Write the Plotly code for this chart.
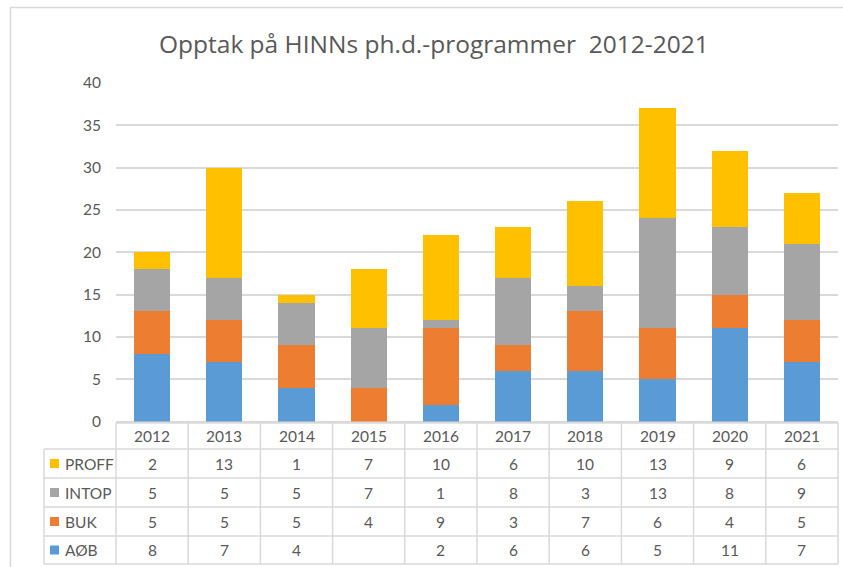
import plotly.graph_objects as go

years = ["2012", "2013", "2014", "2015", "2016", "2017", "2018", "2019", "2020", "2021"]
aob = [8, 7, 4, None, 2, 6, 6, 5, 11, 7]
buk = [5, 5, 5, 4, 9, 3, 7, 6, 4, 5]
intop = [5, 5, 5, 7, 1, 8, 3, 13, 8, 9]
proff = [2, 13, 1, 7, 10, 6, 10, 13, 9, 6]

series_names = ["AØB", "BUK", "INTOP", "PROFF"]
series_vals = [aob, buk, intop, proff]
colors = ["#5B9BD5", "#ED7D31", "#A5A5A5", "#FFC000"]
title_text = "Opptak på HINNs ph.d.-programmer  2012-2021"

W, H = 843, 567
FONT = "Lato"
TITLE_FONT = "Open Sans"
TXT = "#595959"
GRID = "#D9D9D9"


def px(x):
    return x / W


def py(y):
    return 1 - y / H


X0, X1 = 116, 838
Y0, Y40 = 421.5, 83

fig = go.Figure()
for name, vals, col in zip(series_names, series_vals, colors):
    fig.add_trace(go.Bar(
        x=years, y=[v if v is not None else 0 for v in vals], name=name,
        marker=dict(color=col, line=dict(width=0)),
    ))

shapes = []
# outer chart frame
shapes.append(dict(type="rect", xref="paper", yref="paper",
                   x0=px(10.5), x1=px(860), y0=py(7.5), y1=py(590),
                   line=dict(color="#D9D9D9", width=1.5), fillcolor="rgba(0,0,0,0)"))

# data table grid
line_style = dict(color=GRID, width=1.5)
row_lines = [423, 449, 478, 507, 536, 564]
for i, yl in enumerate(row_lines):
    xs = X0 if i == 0 else 44
    shapes.append(dict(type="line", xref="paper", yref="paper",
                       x0=px(xs), x1=px(X1), y0=py(yl), y1=py(yl), line=line_style))
colw = (X1 - X0) / len(years)
for i in range(len(years) + 1):
    xl = X0 + i * colw
    shapes.append(dict(type="line", xref="paper", yref="paper",
                       x0=px(xl), x1=px(xl), y0=py(423), y1=py(564), line=line_style))
shapes.append(dict(type="line", xref="paper", yref="paper",
                   x0=px(44), x1=px(44), y0=py(449), y1=py(564), line=line_style))

annotations = []
for i, yr in enumerate(years):
    annotations.append(dict(x=px(X0 + (i + 0.5) * colw), y=py(436), xref="paper", yref="paper",
                            text=yr, showarrow=False, xanchor="center", yanchor="middle",
                            font=dict(family=FONT, size=15.5, color=TXT)))

row_centers = {"PROFF": 463.5, "INTOP": 492.5, "BUK": 521.5, "AØB": 550}
for name, vals, col in zip(series_names, series_vals, colors):
    yc = row_centers[name]
    shapes.append(dict(type="rect", xref="paper", yref="paper",
                       x0=px(50), x1=px(59), y0=py(yc - 4.5), y1=py(yc + 4.5),
                       fillcolor=col, line=dict(width=0)))
    annotations.append(dict(x=px(63), y=py(yc), xref="paper", yref="paper",
                            text=name, showarrow=False, xanchor="left", yanchor="middle",
                            font=dict(family=FONT, size=15.5, color=TXT)))
    for i, v in enumerate(vals):
        if v is None:
            continue
        annotations.append(dict(x=px(X0 + (i + 0.5) * colw), y=py(yc), xref="paper", yref="paper",
                                text=str(v), showarrow=False, xanchor="center", yanchor="middle",
                                font=dict(family=FONT, size=15.5, color=TXT)))

annotations.append(dict(x=px(434), y=py(43), xref="paper", yref="paper",
                        text=title_text, showarrow=False,
                        xanchor="center", yanchor="middle",
                        font=dict(family=TITLE_FONT, size=24.5, color=TXT)))

fig.update_layout(
    width=W, height=H, margin=dict(l=0, r=0, t=0, b=0, autoexpand=False),
    paper_bgcolor="white", plot_bgcolor="white",
    barmode="stack", bargap=0.5, showlegend=False,
    shapes=shapes, annotations=annotations,
    xaxis=dict(domain=[px(X0), px(X1)], range=[-0.5, 9.5], showticklabels=False,
               showgrid=False, zeroline=False, showline=False, ticks="", automargin=False),
    yaxis=dict(domain=[py(Y0), py(Y40)], range=[0, 40], dtick=5, showgrid=True,
               gridcolor=GRID, gridwidth=1.5, zeroline=True, zerolinecolor=GRID,
               zerolinewidth=1.5, showline=False, ticks="", ticklabelstandoff=14,
               automargin=False,
               tickfont=dict(family=FONT, size=15.5, color=TXT)),
)

post = (
    "document.documentElement.style.overflow='hidden';"
    "document.body.style.margin='0';"
    "document.body.style.overflow='hidden';"
    "var gd=document.getElementById('{plot_id}');"
    "gd.style.position='fixed';gd.style.left='0px';gd.style.top='0px';"
)
fig.write_html("out.html", config={"displayModeBar": False}, post_script=post)
